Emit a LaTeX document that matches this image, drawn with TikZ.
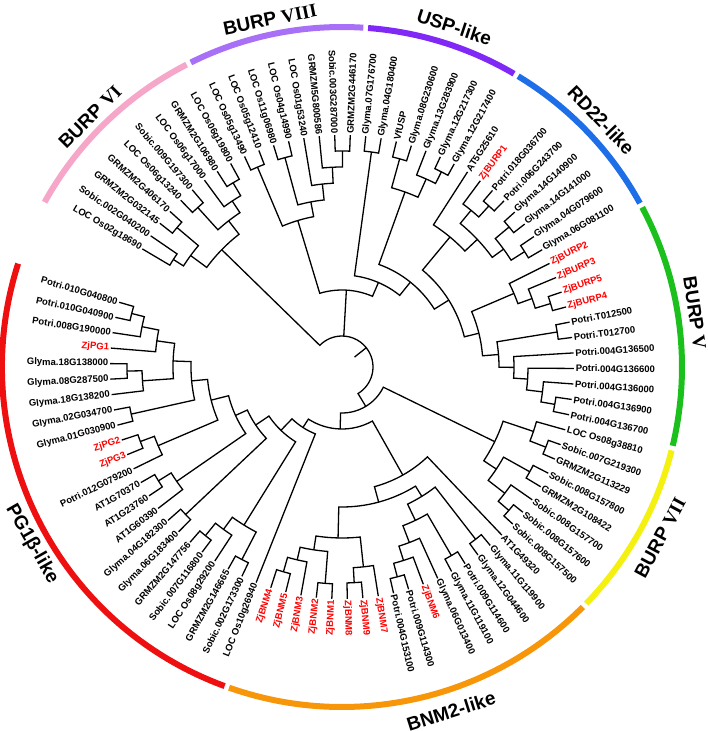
\documentclass[tikz,border=0pt]{standalone}
\usepackage{fontspec}
\setmainfont{Liberation Sans}
\newfontfamily\numfont{Liberation Serif}
\definecolor{cPG}{RGB}{238,16,16}
\definecolor{cBNM}{RGB}{246,150,8}
\definecolor{cVII}{RGB}{244,240,16}
\definecolor{cV}{RGB}{28,192,28}
\definecolor{cRD}{RGB}{30,110,232}
\definecolor{cUSP}{RGB}{128,40,246}
\definecolor{cVIII}{RGB}{168,112,246}
\definecolor{cVI}{RGB}{246,166,200}
\definecolor{zj}{RGB}{255,0,0}
\tikzset{
  lab/.style={font=\fontsize{9.5}{11}\selectfont\bfseries, inner sep=0.6pt},
  br/.style={line width=1.3pt},
  ring/.style={line width=6pt},
  clab/.style={font=\fontsize{19}{22}\selectfont\bfseries, inner sep=0pt}
}
\newcommand\lf[4]{%
  \pgfmathsetmacro\tmpang{163.8+#2*3.84}%
  \expandafter\xdef\csname ang#1\endcsname{\tmpang}%
  \coordinate (#1) at (\tmpang:232pt);%
  \pgfmathtruncatemacro\tmpside{cos(\tmpang)>=0 ? 1 : 0}%
  \ifnum\tmpside=1
    \node[lab,text=#4,anchor=west,rotate=\tmpang] (t#1) at (\tmpang:233pt) {#3};%
  \else
    \pgfmathsetmacro\tmprot{\tmpang+180}%
    \node[lab,text=#4,anchor=east,rotate=\tmprot] (t#1) at (\tmpang:233pt) {#3};%
  \fi
}
\newcommand\cl[4]{%
  \edef\tmpa{\csname ang#3\endcsname}%
  \edef\tmpb{\csname ang#4\endcsname}%
  \pgfmathsetmacro\tmpm{(\tmpa+\tmpb)/2}%
  \expandafter\xdef\csname ang#1\endcsname{\tmpm}%
  \coordinate (#1) at (\tmpm:#2pt);%
  \draw[br] (#3) -- (\tmpa:#2pt) arc[start angle=\tmpa, end angle=\tmpb, radius=#2pt] -- (#4);%
}
\begin{document}
\begin{tikzpicture}[x=1pt,y=1pt]
\useasboundingbox (-342,-364) rectangle (366,367);
% ---------------- leaves
\lf{L0}{0}{Potri.010G040800}{black}
\lf{L1}{1}{Potri.010G040900}{black}
\lf{L2}{2}{Potri.008G190000}{black}
\lf{L3}{3}{ZjPG1}{zj}
\lf{L4}{4}{Glyma.18G138000}{black}
\lf{L5}{5}{Glyma.08G287500}{black}
\lf{L6}{6}{Glyma.18G138200}{black}
\lf{L7}{7}{Glyma.02G034700}{black}
\lf{L8}{8}{Glyma.01G030900}{black}
\lf{L9}{9}{ZjPG2}{zj}
\lf{L10}{10}{ZjPG3}{zj}
\lf{L11}{11}{Potri.012G079200}{black}
\lf{L12}{12}{AT1G70370}{black}
\lf{L13}{13}{AT1G23760}{black}
\lf{L14}{14}{AT1G60390}{black}
\lf{L15}{15}{Glyma.04G182300}{black}
\lf{L16}{16}{Glyma.06G183400}{black}
\lf{L17}{17}{GRMZM2G147756}{black}
\lf{L18}{18}{Sobic.007G116800}{black}
\lf{L19}{19}{LOC Os08g29200}{black}
\lf{L20}{20}{GRMZM2G146665}{black}
\lf{L21}{21}{Sobic.002G173300}{black}
\lf{L22}{22}{LOC Os10g26940}{black}
\lf{L23}{23}{ZjBNM4}{zj}
\lf{L24}{24}{ZjBNM5}{zj}
\lf{L25}{25}{ZjBNM3}{zj}
\lf{L26}{26}{ZjBNM2}{zj}
\lf{L27}{27}{ZjBNM1}{zj}
\lf{L28}{28}{ZjBNM8}{zj}
\lf{L29}{29}{ZjBNM9}{zj}
\lf{L30}{30}{ZjBNM7}{zj}
\lf{L31}{31}{Potri.004G153100}{black}
\lf{L32}{32}{Potri.009G114300}{black}
\lf{L33}{33}{ZjBNM6}{zj}
\lf{L34}{34}{Glyma.06G013400}{black}
\lf{L35}{35}{Glyma.11G119100}{black}
\lf{L36}{36}{Potri.009G114600}{black}
\lf{L37}{37}{Glyma.12G044600}{black}
\lf{L38}{38}{Glyma.11G119900}{black}
\lf{L39}{39}{AT1G49320}{black}
\lf{L40}{40}{Sobic.008G157500}{black}
\lf{L41}{41}{Sobic.008G157600}{black}
\lf{L42}{42}{Sobic.008G157700}{black}
\lf{L43}{43}{GRMZM2G108422}{black}
\lf{L44}{44}{Sobic.008G157800}{black}
\lf{L45}{45}{GRMZM2G113229}{black}
\lf{L46}{46}{Sobic.007G219300}{black}
\lf{L47}{47}{LOC Os08g38810}{black}
\lf{L48}{48}{Potri.004G136700}{black}
\lf{L49}{49}{Potri.004G136900}{black}
\lf{L50}{50}{Potri.004G136000}{black}
\lf{L51}{51}{Potri.004G136600}{black}
\lf{L52}{52}{Potri.004G136500}{black}
\lf{L53}{53}{Potri.T012700}{black}
\lf{L54}{54}{Potri.T012500}{black}
\lf{L55}{55}{ZjBURP4}{zj}
\lf{L56}{56}{ZjBURP5}{zj}
\lf{L57}{57}{ZjBURP3}{zj}
\lf{L58}{58}{ZjBURP2}{zj}
\lf{L59}{59}{Glyma.06G081100}{black}
\lf{L60}{60}{Glyma.04G079600}{black}
\lf{L61}{61}{Glyma.14G141000}{black}
\lf{L62}{62}{Glyma.14G140900}{black}
\lf{L63}{63}{Potri.006G243700}{black}
\lf{L64}{64}{Potri.018G036700}{black}
\lf{L65}{65}{ZjBURP1}{zj}
\lf{L66}{66}{AT5G25610}{black}
\lf{L67}{67}{Glyma.12G217400}{black}
\lf{L68}{68}{Glyma.12G217300}{black}
\lf{L69}{69}{Glyma.13G283900}{black}
\lf{L70}{70}{Glyma.08G230600}{black}
\lf{L71}{71}{VfUSP}{black}
\lf{L72}{72}{Glyma.04G180400}{black}
\lf{L73}{73}{Glyma.07G176700}{black}
\lf{L74}{74}{GRMZM2G446170}{black}
\lf{L75}{75}{Sobic.003G287000}{black}
\lf{L76}{76}{GRMZM5G800586}{black}
\lf{L77}{77}{LOC Os01g53240}{black}
\lf{L78}{78}{LOC Os04g14990}{black}
\lf{L79}{79}{LOC Os11g06980}{black}
\lf{L80}{80}{LOC Os05g12410}{black}
\lf{L81}{81}{LOC Os05g13490}{black}
\lf{L82}{82}{LOC Os06g19800}{black}
\lf{L83}{83}{GRMZM2G106980}{black}
\lf{L84}{84}{LOC Os06g17000}{black}
\lf{L85}{85}{Sobic.009G197300}{black}
\lf{L86}{86}{LOC Os06g13240}{black}
\lf{L87}{87}{GRMZM2G406170}{black}
\lf{L88}{88}{GRMZM2G032145}{black}
\lf{L89}{89}{Sobic.002G040200}{black}
\lf{L90}{90}{LOC Os02g18690}{black}
% ---------------- PG1beta
\cl{pga}{217}{L0}{L1}
\cl{pgb}{204}{pga}{L2}
\cl{pgc}{187}{pgb}{L3}
\cl{pgd}{215}{L4}{L5}
\cl{pge}{200}{pgd}{L6}
\cl{pgf}{169}{pgc}{pge}
\cl{pgg}{216}{L7}{L8}
\cl{pgh}{151}{pgf}{pgg}
\cl{pgi}{215}{L9}{L10}
\cl{pgj}{200}{pgi}{L11}
\cl{pgk}{135}{pgh}{pgj}
\cl{pgl}{216}{L12}{L13}
\cl{pgm}{201}{pgl}{L14}
\cl{pgn}{117}{pgk}{pgm}
\cl{pgo}{215}{L15}{L16}
\cl{pgp}{104}{pgn}{pgo}
\cl{pgq}{217}{L17}{L18}
\cl{pgr}{201}{pgq}{L19}
\cl{pgs}{217}{L20}{L21}
\cl{pgt}{186}{pgr}{pgs}
\cl{pgu}{88}{pgp}{pgt}
\cl{pgv}{72}{pgu}{L22}
% ---------------- BNM2
\cl{bna}{213}{L23}{L24}
\cl{bnb}{198}{bna}{L25}
\cl{bnc}{217}{L26}{L27}
\cl{bnd}{185}{bnb}{bnc}
\cl{bne}{216}{L28}{L29}
\cl{bnf}{201}{bne}{L30}
\cl{bng}{171}{bnd}{bnf}
\cl{bnh}{217}{L31}{L32}
\cl{bni}{203}{bnh}{L33}
\cl{bnj}{188}{bni}{L34}
\cl{bnk}{218}{L35}{L36}
\cl{bnl}{170}{bnj}{bnk}
\cl{bnm}{218}{L37}{L38}
\cl{bnn}{152}{bnl}{bnm}
\cl{bno}{140}{bng}{bnn}
\cl{bnp}{124}{bno}{L39}
% ---------------- BURP VII
\cl{sva}{219}{L45}{L46}
\cl{svb}{202}{sva}{L47}
\cl{svc}{215}{L43}{L44}
\cl{svd}{220}{L40}{L41}
\cl{sve}{206}{svd}{L42}
\cl{svf}{185}{sve}{svc}
\cl{svg}{170}{svf}{svb}
% ---------------- BURP V
\cl{vt}{216}{L48}{L49}
\cl{vs}{202}{L50}{vt}
\cl{vr}{186}{L51}{vs}
\cl{vq}{172}{L52}{vr}
\cl{vpr}{218}{L53}{L54}
\cl{vp}{157}{vq}{vpr}
\cl{vza}{218}{L55}{L56}
\cl{vzb}{202}{vza}{L57}
\cl{vzc}{187}{vzb}{L58}
\cl{vn}{141}{vp}{vzc}
% ---------------- RD22
\cl{rda}{216}{L59}{L60}
\cl{rdb}{218}{L61}{L62}
\cl{rdc}{200}{rda}{rdb}
\cl{rdd}{218}{L63}{L64}
\cl{rde}{203}{rdd}{L65}
\cl{rdf}{186}{rdc}{rde}
\cl{rdg}{169}{rdf}{L66}
% ---------------- USP
\cl{usa}{219}{L67}{L68}
\cl{usb}{206}{usa}{L69}
\cl{usc}{216}{L70}{L71}
\cl{usd}{186}{usb}{usc}
\cl{use}{217}{L72}{L73}
% ---------------- backbone
\cl{nd}{126}{vn}{rdg}
\cl{nc}{109}{nd}{usd}
\cl{nb}{92}{nc}{use}
% ---------------- BURP VIII
\cl{eia}{216}{L74}{L75}
\cl{eib}{200}{eia}{L76}
\cl{eic}{184}{eib}{L77}
\cl{eid}{217}{L78}{L79}
\cl{eie}{168}{eic}{eid}
\cl{eif}{217}{L80}{L81}
\cl{eig}{153}{eie}{eif}
\cl{na}{77}{nb}{eig}
% ---------------- BURP VI
\cl{sia}{214}{L82}{L83}
\cl{sib}{199}{sia}{L84}
\cl{sic}{215}{L85}{L86}
\cl{sid}{185}{sib}{sic}
\cl{sie}{216}{L87}{L88}
\cl{sif}{200}{L89}{L90}
\cl{sig}{188}{sie}{sif}
\cl{sih}{168}{sid}{sig}
% ---------------- base
\cl{bone}{62}{pgv}{bnp}
\cl{btwo}{46}{bone}{svg}
\edef\ra{\csname angbtwo\endcsname}
\edef\rb{\csname angsih\endcsname}
\edef\rc{\csname angna\endcsname}
\pgfmathsetmacro\rm{(\ra+\rb)/2}
\coordinate (root) at (\rm:31pt);
\coordinate (rootstem) at (\rm:16pt);
\draw[br] (btwo) -- (\ra:31pt) arc[start angle=\ra, end angle=\rb, radius=31pt] -- (sih);
\draw[br] (na) -- (\rc:31pt);
\draw[br] (root) -- (rootstem);
% ---------------- rings
\draw[ring,cPG] (162.3:340pt) arc[start angle=162.3, end angle=249.8, radius=340pt];
\draw[ring,cBNM] (250.6:340pt) arc[start angle=250.6, end angle=315.1, radius=340pt];
\draw[ring,cVII] (315.9:340pt) arc[start angle=315.9, end angle=345.8, radius=340pt];
\draw[ring,cV] (346.6:340pt) arc[start angle=346.6, end angle=388.0, radius=340pt];
\draw[ring,cRD] (388.8:340pt) arc[start angle=388.8, end angle=418.8, radius=340pt];
\draw[ring,cUSP] (419.6:340pt) arc[start angle=419.6, end angle=445.6, radius=340pt];
\draw[ring,cVIII] (446.4:340pt) arc[start angle=446.4, end angle=476.4, radius=340pt];
\draw[ring,cVI] (477.2:340pt) arc[start angle=477.2, end angle=511.0, radius=340pt];
% ---------------- clade labels
\node[clab,rotate=-18.3] (kUSP) at (71.7:358pt) {USP-like};
\node[clab,rotate=-46.4] (kRD) at (43.6:358pt) {RD22-like};
\node[clab,rotate=-81.3] (kV) at (8.7:357pt) {BURP {\numfont\bfseries V}};
\node[clab,rotate=61.8] (kVII) at (-28.2:361pt) {BURP {\numfont\bfseries VII}};
\node[clab,rotate=17.6] (kBNM) at (-72.4:361pt) {BNM2-like};
\node[clab,rotate=-60.3] (kPG) at (209.7:357pt) {PG1β-like};
\node[clab,rotate=45.2] (kVI) at (135.2:355pt) {BURP {\numfont\bfseries VI}};
\node[clab,rotate=11.7] (kVIII) at (101.7:355pt) {BURP {\numfont\bfseries VIII}};
\end{tikzpicture}
\end{document}
